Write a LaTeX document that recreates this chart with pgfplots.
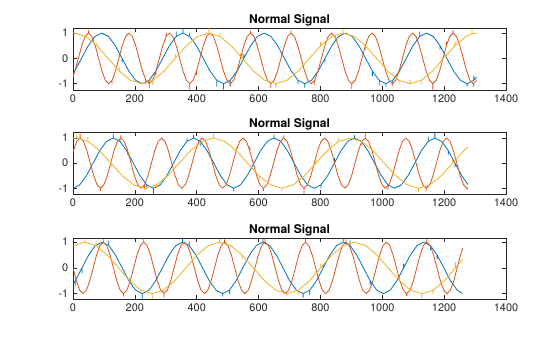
\documentclass[border=0pt]{standalone}
\usepackage{fontspec}
\setmainfont{TeX Gyre Heros}
\usepackage{pgfplots}
\pgfplotsset{compat=1.18}
\definecolor{mblue}{rgb}{0,0.447,0.741}
\definecolor{morange}{rgb}{0.85,0.325,0.098}
\definecolor{myellow}{rgb}{0.929,0.694,0.125}
\pgfplotsset{sig/.style={scale only axis, width=324.75pt, height=46.5pt,
  xmin=0, xmax=1400, xtick={0,200,...,1400},
  xticklabels={0,200,400,600,800,1000,1200,1400},
  ytick={-1,0,1}, yticklabels={-1,0,1},
  tick align=inside, major tick length=3pt,
  axis line style={black!85, line width=0.5pt},
  every tick/.style={black!85, line width=0.5pt},
  tick label style={font=\fontsize{8.2}{9}\selectfont, text=black!85},
  every axis title shift=0pt,
  title style={font=\bfseries\fontsize{9}{10}\selectfont, text=black, at={(0.5,1)}, anchor=base, yshift=3.7pt, inner sep=0pt},
  title={Normal Signal},
  every axis plot/.append style={line width=0.6pt, line join=round}}}
\begin{document}
\begin{tikzpicture}
\useasboundingbox (0,0) rectangle (420pt,252.75pt);
% ---------------- Panel 1 ----------------
\begin{axis}[sig, at={(54.75pt,185.25pt)}, anchor=south west, ymin=-1.25, ymax=1.2]
\addplot[mblue] table {
x y
0 -0.609
5.5 -0.5
27.4 0
49.3 0.5
71.1 0.866
93 1
114.9 0.866
136.8 0.5
158.6 0
158.6 -0.15
158.6 0
180.5 -0.5
202.4 -0.866
224.3 -1
246.1 -0.866
246.1 -1.0
246.1 -0.866
268 -0.5
289.9 0
311.8 0.5
333.6 0.866
333.6 1.05
333.6 0.866
355.5 1
355.5 1.15
355.5 1
377.4 0.866
377.4 1.0
377.4 0.866
399.3 0.5
421.1 0
443 -0.5
464.9 -0.866
464.9 -1.1
464.9 -0.866
486.8 -1
486.8 -1.22
486.8 -1
508.6 -0.866
508.6 -1.1
508.6 -0.866
530.5 -0.5
552.4 0
552.4 0.15
552.4 0
574.3 0.5
596.1 0.866
618 1
639.9 0.866
661.8 0.5
683.6 0
705.5 -0.5
727.4 -0.866
727.4 -1.0
727.4 -0.866
749.3 -1
749.3 -1.15
749.3 -1
771.1 -0.866
793 -0.5
814.9 0
814.9 -0.15
814.9 0
836.8 0.5
858.6 0.866
880.5 1
902.4 0.866
924.3 0.5
946.1 0
968 -0.5
968 -0.7
968 -0.5
989.9 -0.866
989.9 -1.05
989.9 -0.866
1011.8 -1
1011.8 -1.12
1011.8 -1
1033.6 -0.866
1033.6 -1.0
1033.6 -0.866
1055.5 -0.5
1077.4 0
1099.3 0.5
1121.1 0.866
1121.1 1.05
1121.1 0.866
1143 1
1164.9 0.866
1186.8 0.5
1186.8 0.35
1186.8 0.5
1208.6 0
1230.5 -0.5
1252.4 -0.866
1274.3 -1
1274.3 -1.1
1274.3 -1
1296.1 -0.866
1296.1 -0.7
1296.1 -0.866
1305 -0.741
};
\addplot[morange] table {
x y
0 -0.736
6.3 -0.5
17.3 0
28.2 0.5
39.1 0.866
50 1
50 1.1
50 1
60.9 0.866
71.8 0.5
82.8 0
93.7 -0.5
104.6 -0.866
115.5 -1
126.4 -0.866
126.4 -1.0
126.4 -0.866
137.3 -0.5
148.3 0
159.2 0.5
170.1 0.866
181 1
191.9 0.866
202.8 0.5
213.8 0
224.7 -0.5
235.6 -0.866
235.6 -1.0
235.6 -0.866
246.5 -1
246.5 -1.18
246.5 -1
257.4 -0.866
268.3 -0.5
268.3 -0.65
268.3 -0.5
279.3 0
290.2 0.5
301.1 0.866
301.1 1.0
301.1 0.866
312 1
322.9 0.866
333.8 0.5
344.8 0
355.7 -0.5
366.6 -0.866
377.5 -1
377.5 -1.25
377.5 -1
388.4 -0.866
399.3 -0.5
399.3 -0.65
399.3 -0.5
410.3 0
421.2 0.5
432.1 0.866
443 1
453.9 0.866
464.8 0.5
475.8 0
486.7 -0.5
497.6 -0.866
508.5 -1
508.5 -1.1
508.5 -1
519.4 -0.866
530.3 -0.5
541.3 0
541.3 0.15
541.3 0
552.2 0.5
563.1 0.866
574 1
574 1.08
574 1
584.9 0.866
595.8 0.5
606.8 0
617.7 -0.5
628.6 -0.866
639.5 -1
639.5 -1.15
639.5 -1
650.4 -0.866
661.3 -0.5
672.3 0
683.2 0.5
694.1 0.866
705 1
705 1.1
705 1
715.9 0.866
726.8 0.5
737.8 0
748.7 -0.5
759.6 -0.866
770.5 -1
781.4 -0.866
781.4 -1.05
781.4 -0.866
792.3 -0.5
803.3 0
814.2 0.5
825.1 0.866
836 1
846.9 0.866
857.8 0.5
868.8 0
879.7 -0.5
890.6 -0.866
901.5 -1
901.5 -1.2
901.5 -1
912.4 -0.866
923.3 -0.5
934.3 0
945.2 0.5
956.1 0.866
967 1
977.9 0.866
988.8 0.5
999.8 0
1010.7 -0.5
1021.6 -0.866
1032.5 -1
1032.5 -1.1
1032.5 -1
1043.4 -0.866
1054.3 -0.5
1065.3 0
1076.2 0.5
1087.1 0.866
1098 1
1108.9 0.866
1119.8 0.5
1130.8 0
1141.7 -0.5
1152.6 -0.866
1163.5 -1
1163.5 -1.22
1163.5 -1
1174.4 -0.866
1185.3 -0.5
1196.3 0
1207.2 0.5
1207.2 0.65
1207.2 0.5
1218.1 0.866
1229 1
1229 1.1
1229 1
1239.9 0.866
1250.8 0.5
1261.8 0
1272.7 -0.5
1283.6 -0.866
1294.5 -1
1294.5 -1.1
1294.5 -1
1305 -0.875
};
\addplot[myellow] table {
x y
0 0.997
5 1
41.2 0.866
77.3 0.5
77.3 0.65
77.3 0.5
113.5 0
149.7 -0.5
149.7 -0.35
149.7 -0.5
185.8 -0.866
222 -1
258.2 -0.866
258.2 -1.05
258.2 -0.866
294.3 -0.5
330.5 0
330.5 0.15
330.5 0
366.7 0.5
402.8 0.866
439 1
439 1.18
439 1
475.2 0.866
475.2 1.0
475.2 0.866
511.3 0.5
547.5 0
547.5 0.2
547.5 0
583.7 -0.5
619.8 -0.866
656 -1
656 -1.15
656 -1
692.2 -0.866
728.3 -0.5
764.5 0
800.7 0.5
800.7 0.65
800.7 0.5
836.8 0.866
873 1
873 1.15
873 1
909.2 0.866
945.3 0.5
945.3 0.35
945.3 0.5
981.5 0
1017.7 -0.5
1053.8 -0.866
1053.8 -1.0
1053.8 -0.866
1090 -1
1090 -0.85
1090 -1
1126.2 -0.866
1126.2 -1.0
1126.2 -0.866
1162.3 -0.5
1198.5 0
1234.7 0.5
1234.7 0.65
1234.7 0.5
1270.8 0.866
1290 0.97
1290 1.15
1290 0.97
1305 1.0
};
\end{axis}
% ---------------- Panel 2 ----------------
\begin{axis}[sig, at={(54.75pt,107.25pt)}, anchor=south west, ymin=-1.23, ymax=1.24]
\addplot[mblue] table {
x y
0 -1
21.7 -0.866
43.3 -0.5
65 0
86.7 0.5
108.3 0.866
130 1
130 1.15
130 1
151.7 0.866
151.7 1.0
151.7 0.866
173.3 0.5
195 0
216.7 -0.5
238.3 -0.866
238.3 -1.0
238.3 -0.866
260 -1
260 -1.22
260 -1
281.7 -0.866
303.3 -0.5
325 0
346.7 0.5
368.3 0.866
368.3 1.0
368.3 0.866
390 1
390 1.12
390 1
411.7 0.866
411.7 0.7
411.7 0.866
433.3 0.5
455 0
476.7 -0.5
498.3 -0.866
520 -1
520 -1.1
520 -1
541.7 -0.866
563.3 -0.5
585 0
606.7 0.5
628.3 0.866
650 1
650 1.12
650 1
671.7 0.866
693.3 0.5
715 0
736.7 -0.5
758.3 -0.866
780 -1
801.7 -0.866
801.7 -1.0
801.7 -0.866
823.3 -0.5
845 0
845 0.2
845 0
866.7 0.5
888.3 0.866
910 1
910 1.1
910 1
931.7 0.866
953.3 0.5
975 0
996.7 -0.5
1018.3 -0.866
1018.3 -1.05
1018.3 -0.866
1040 -1
1061.7 -0.866
1083.3 -0.5
1105 0
1126.7 0.5
1148.3 0.866
1148.3 1.05
1148.3 0.866
1170 1
1170 1.24
1170 1
1191.7 0.866
1213.3 0.5
1213.3 0.35
1213.3 0.5
1235 0
1235 -0.15
1235 0
1256.7 -0.5
1277 -0.85
};
\addplot[morange] table {
x y
0 0.456
12 0.866
23 1
23 1.15
23 1
34 0.866
44.9 0.5
55.9 0
66.9 -0.5
77.9 -0.866
88.8 -1
88.8 -1.1
88.8 -1
99.8 -0.866
110.8 -0.5
121.8 0
132.7 0.5
143.7 0.866
154.7 1
154.7 1.1
154.7 1
165.7 0.866
176.6 0.5
176.6 0.35
176.6 0.5
187.6 0
198.6 -0.5
209.6 -0.866
220.5 -1
231.5 -0.866
231.5 -1.0
231.5 -0.866
242.5 -0.5
253.5 0
264.4 0.5
275.4 0.866
286.3 1
297.3 0.866
308.2 0.5
319.2 0
330.2 -0.5
341.2 -0.866
352.1 -1
352.1 -1.05
352.1 -1
363.1 -0.866
374.1 -0.5
385.1 0
396 0.5
407 0.866
418 1
429 0.866
439.9 0.5
450.9 0
461.9 -0.5
472.9 -0.866
483.8 -1
494.8 -0.866
505.8 -0.5
516.8 0
527.7 0.5
538.7 0.866
549.7 1
560.7 0.866
571.6 0.5
571.6 0.65
571.6 0.5
582.6 0
593.6 -0.5
604.6 -0.866
615.5 -1
615.5 -1.1
615.5 -1
626.5 -0.866
637.5 -0.5
648.5 0
659.4 0.5
670.4 0.866
681.3 1
681.3 1.1
681.3 1
692.3 0.866
703.2 0.5
714.2 0
725.2 -0.5
736.2 -0.866
747.1 -1
747.1 -1.22
747.1 -1
758.1 -0.866
769.1 -0.5
780.1 0
791 0.5
802 0.866
813 1
824 0.866
834.9 0.5
845.9 0
856.9 -0.5
867.9 -0.866
878.8 -1
889.8 -0.866
900.8 -0.5
911.8 0
922.7 0.5
933.7 0.866
944.7 1
944.7 1.2
944.7 1
955.7 0.866
966.6 0.5
977.6 0
988.6 -0.5
999.6 -0.866
1010.5 -1
1021.5 -0.866
1032.5 -0.5
1043.5 0
1054.4 0.5
1065.4 0.866
1076.3 1
1087.3 0.866
1098.2 0.5
1109.2 0
1120.2 -0.5
1131.2 -0.866
1142.1 -1
1142.1 -1.1
1142.1 -1
1153.1 -0.866
1164.1 -0.5
1175.1 0
1186 0.5
1197 0.866
1208 1
1219 0.866
1229.9 0.5
1240.9 0
1251.9 -0.5
1262.9 -0.866
1273.8 -1
1273.8 -1.05
1273.8 -1
1277 -0.99
};
\addplot[myellow] table {
x y
0 0.985
12 1
12 1.15
12 1
48.8 0.866
48.8 1.05
48.8 0.866
85.7 0.5
122.5 0
122.5 -0.15
122.5 0
159.3 -0.5
196.2 -0.866
233 -1
233 -1.12
233 -1
269.8 -0.866
269.8 -1.0
269.8 -0.866
306.7 -0.5
343.5 0
380.3 0.5
417.2 0.866
454 1
454 1.15
454 1
490.8 0.866
527.7 0.5
527.7 0.65
527.7 0.5
564.5 0
601.3 -0.5
601.3 -0.65
601.3 -0.5
638.2 -0.866
675 -1
675 -1.1
675 -1
711.8 -0.866
748.7 -0.5
785.5 0
785.5 0.15
785.5 0
822.3 0.5
859.2 0.866
859.2 1.0
859.2 0.866
896 1
932.8 0.866
932.8 0.7
932.8 0.866
969.7 0.5
1006.5 0
1043.3 -0.5
1080.2 -0.866
1117 -1
1117 -1.15
1117 -1
1153.8 -0.866
1190.7 -0.5
1227.5 0
1227.5 0.15
1227.5 0
1264.3 0.5
1277 0.647
};
\end{axis}
% ---------------- Panel 3 ----------------
\begin{axis}[sig, height=45.75pt, at={(54.75pt,28.5pt)}, anchor=south west, ymin=-1.21, ymax=1.16]
\addplot[mblue] table {
x y
0 -0.645
7.3 -0.5
7.3 -0.7
7.3 -0.5
29 0
29 -0.2
29 0
50.7 0.5
72.3 0.866
94 1
115.7 0.866
115.7 1.05
115.7 0.866
137.3 0.5
159 0
180.7 -0.5
202.3 -0.866
224 -1
224 -1.2
224 -1
245.7 -0.866
267.3 -0.5
289 0
310.7 0.5
332.3 0.866
354 1
354 1.12
354 1
375.7 0.866
375.7 1.02
375.7 0.866
397.3 0.5
419 0
440.7 -0.5
462.3 -0.866
484 -1
484 -1.1
484 -1
505.7 -0.866
505.7 -1.0
505.7 -0.866
527.3 -0.5
549 0
570.7 0.5
592.3 0.866
614 1
614 1.16
614 1
635.7 0.866
657.3 0.5
679 0
700.7 -0.5
722.3 -0.866
744 -1
744 -1.15
744 -1
765.7 -0.866
765.7 -1.05
765.7 -0.866
787.3 -0.5
809 0
809 0.15
809 0
830.7 0.5
852.3 0.866
874 1
874 1.16
874 1
895.7 0.866
895.7 1.05
895.7 0.866
917.3 0.5
939 0
960.7 -0.5
960.7 -0.65
960.7 -0.5
982.3 -0.866
1004 -1
1025.7 -0.866
1047.3 -0.5
1069 0
1069 0.15
1069 0
1090.7 0.5
1112.3 0.866
1134 1
1155.7 0.866
1155.7 0.7
1155.7 0.866
1177.3 0.5
1177.3 0.35
1177.3 0.5
1199 0
1220.7 -0.5
1242.3 -0.866
1258 -0.99
};
\addplot[morange] table {
x y
0 0
10.8 -0.5
21.7 -0.866
32.6 -1
43.5 -0.866
54.4 -0.5
65.3 0
76.2 0.5
87.1 0.866
98 1
98 1.1
98 1
108.9 0.866
119.8 0.5
130.7 0
141.6 -0.5
152.5 -0.866
163.4 -1
163.4 -1.1
163.4 -1
174.3 -0.866
185.2 -0.5
196.1 0
207 0.5
217.9 0.866
228.8 1
228.8 1.16
228.8 1
239.7 0.866
250.6 0.5
261.5 0
272.4 -0.5
283.3 -0.866
294.2 -1
294.2 -1.15
294.2 -1
305.1 -0.866
316 -0.5
326.9 0
337.8 0.5
348.7 0.866
359.5 1
370.4 0.866
381.3 0.5
392.2 0
403.1 -0.5
414 -0.866
424.9 -1
435.8 -0.866
446.7 -0.5
457.6 0
468.5 0.5
479.4 0.866
490.3 1
490.3 1.1
490.3 1
501.2 0.866
512.1 0.5
523 0
533.9 -0.5
544.8 -0.866
555.7 -1
566.6 -0.866
577.5 -0.5
588.4 0
599.3 0.5
610.2 0.866
621 1
621 1.15
621 1
631.9 0.866
642.8 0.5
653.7 0
664.6 -0.5
675.5 -0.866
686.4 -1
697.3 -0.866
708.2 -0.5
719.1 0
730 0.5
740.9 0.866
751.8 1
751.8 1.1
751.8 1
762.7 0.866
773.6 0.5
784.5 0
795.4 -0.5
806.3 -0.866
817.2 -1
828.1 -0.866
839 -0.5
849.9 0
860.8 0.5
871.7 0.866
882.5 1
882.5 1.15
882.5 1
893.4 0.866
904.3 0.5
915.2 0
926.1 -0.5
937 -0.866
947.9 -1
958.8 -0.866
969.7 -0.5
980.6 0
991.5 0.5
1002.4 0.866
1013.3 1
1024.2 0.866
1035.1 0.5
1046 0
1056.9 -0.5
1067.8 -0.866
1078.7 -1
1078.7 -1.08
1078.7 -1
1089.6 -0.866
1100.5 -0.5
1111.4 0
1122.3 0.5
1133.2 0.866
1144 1
1144 1.1
1144 1
1154.9 0.866
1165.8 0.5
1176.7 0
1187.6 -0.5
1198.5 -0.866
1209.4 -1
1209.4 -1.05
1209.4 -1
1220.3 -0.866
1231.2 -0.5
1242.1 0
1253 0.5
1260 0.759
};
\addplot[myellow] table {
x y
0 0.854
38 1
38 1.12
38 1
74.3 0.866
74.3 1.0
74.3 0.866
110.7 0.5
147 0
183.3 -0.5
183.3 -0.35
183.3 -0.5
219.7 -0.866
219.7 -1.0
219.7 -0.866
256 -1
256 -1.18
256 -1
292.3 -0.866
292.3 -1.05
292.3 -0.866
328.7 -0.5
365 0
401.3 0.5
437.7 0.866
474 1
474 1.12
474 1
510.3 0.866
546.7 0.5
546.7 0.35
546.7 0.5
583 0
619.3 -0.5
655.7 -0.866
692 -1
692 -1.1
692 -1
728.3 -0.866
728.3 -1.05
728.3 -0.866
764.7 -0.5
801 0
801 0.15
801 0
837.3 0.5
873.7 0.866
873.7 1.0
873.7 0.866
910 1
946.3 0.866
982.7 0.5
1019 0
1055.3 -0.5
1055.3 -0.35
1055.3 -0.5
1091.7 -0.866
1128 -1
1128 -1.15
1128 -1
1164.3 -0.866
1164.3 -1.0
1164.3 -0.866
1200.7 -0.5
1237 0
1237 0.2
1237 0
1260 0.325
};
\end{axis}
\end{tikzpicture}
\end{document}
